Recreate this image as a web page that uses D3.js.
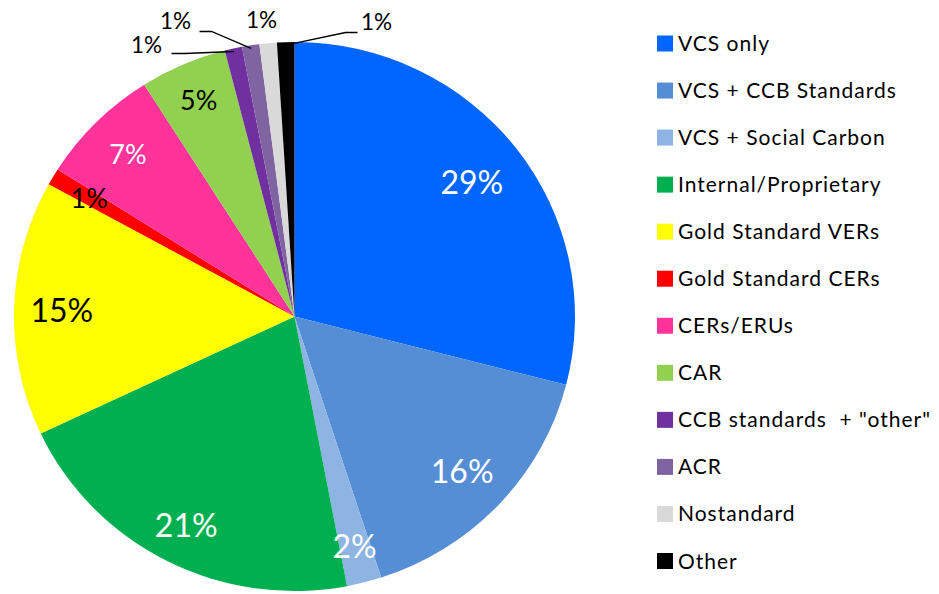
<!DOCTYPE html>
<html>
<head>
<meta charset="utf-8">
<script src="https://cdn.jsdelivr.net/npm/d3@7"></script>
<style>
  html, body { margin: 0; padding: 0; background: #fff; }
  svg { display: block; }
  text { font-family: Lato, "Open Sans", sans-serif; }
</style>
</head>
<body>
<svg id="chart" width="939" height="594"></svg>
<script>
// ---- data ----
const categories = [
  "VCS only", "VCS + CCB Standards", "VCS + Social Carbon", "Internal/Proprietary",
  "Gold Standard VERs", "Gold Standard CERs", "CERs/ERUs", "CAR",
  "CCB standards  + \"other\"", "ACR", "Nostandard", "Other"
];
const values = [29, 16, 2, 21, 15, 1, 7, 5, 1, 1, 1, 1];
const colors = [
  "#0066FF", "#558ED5", "#8EB4E3", "#00B050",
  "#FFFF00", "#FF0000", "#FF3399", "#92D050",
  "#7030A0", "#8064A2", "#D9D9D9", "#000000"
];
const labelColors = ["#fff","#fff","#fff","#fff","#000","#000","#fff","#000","#000","#000","#000","#000"];

// ---- layout ----
const W = 939, H = 594;
const cx = 294.5, cy = 316.5, rx = 280.5, ry = 274.5;
const sy = ry / rx;
const svg = d3.select("#chart");

const pie = d3.pie().sort(null).value(d => d);
const arcs = pie(values);
const arc = d3.arc().innerRadius(0).outerRadius(rx);

const g = svg.append("g").attr("transform", `translate(${cx},${cy}) scale(1,${sy})`);
g.selectAll("path").data(arcs).enter().append("path")
  .attr("d", arc)
  .attr("fill", (d, i) => colors[i]);

// map polar (angle from top, radius) to screen
function pt(angle, r) {
  return [cx + r * Math.sin(angle), cy - r * Math.cos(angle) * sy];
}
const mid = d => (d.startAngle + d.endAngle) / 2;

// inside labels
const insideRadius = [0.80, 0.82, 0.86, 0.85, 0.83, 0.85, 0.84, 0.86];
const bigSize = [32, 32, 32, 32, 32, 27, 27, 27];
const labels = svg.append("g");
arcs.slice(0, 8).forEach((d, i) => {
  const [x, y] = pt(mid(d), rx * insideRadius[i]);
  labels.append("text")
    .attr("x", x).attr("y", y)
    .attr("text-anchor", "middle")
    .attr("dominant-baseline", "central")
    .attr("font-size", bigSize[i])
    .attr("fill", labelColors[i])
    .text(values[i] + "%");
});

// outside labels with leader lines (label centre offsets, in px from pie centre)
const outside = [
  { i: 8,  lx: -148, ly: -272, line: [[-123, -263], [-110, -263]] },
  { i: 9,  lx: -119, ly: -296, line: [[-95, -285], [-83, -285]] },
  { i: 10, lx: -33,  ly: -297, line: null },
  { i: 11, lx: 82,   ly: -295, line: [[63, -284], [51, -284]] }
];
outside.forEach(o => {
  const d = arcs[o.i];
  labels.append("text")
    .attr("x", cx + o.lx).attr("y", cy + o.ly)
    .attr("text-anchor", "middle")
    .attr("dominant-baseline", "central")
    .attr("font-size", 22.5)
    .attr("fill", "#000")
    .text(values[o.i] + "%");
  if (o.line) {
    const end = pt(mid(d), rx - 3);
    const pts = o.line.map(p => [cx + p[0], cy + p[1]]).concat([end]);
    labels.append("path")
      .attr("d", d3.line()(pts))
      .attr("fill", "none")
      .attr("stroke", "#000")
      .attr("stroke-width", 1.3);
  }
});

// legend
const legendY = d3.scalePoint().domain(d3.range(categories.length)).range([43.5, 561]);
const legend = svg.append("g");
categories.forEach((c, i) => {
  const y = legendY(i);
  legend.append("rect")
    .attr("x", 657).attr("y", y - 8)
    .attr("width", 16).attr("height", 16)
    .attr("fill", colors[i]);
  legend.append("text")
    .attr("x", 678).attr("y", y + 7.5)
    .attr("font-size", 21)
    .attr("letter-spacing", 1)
    .attr("fill", "#000")
    .style("white-space", "pre")
    .text(c);
});
</script>
</body>
</html>
